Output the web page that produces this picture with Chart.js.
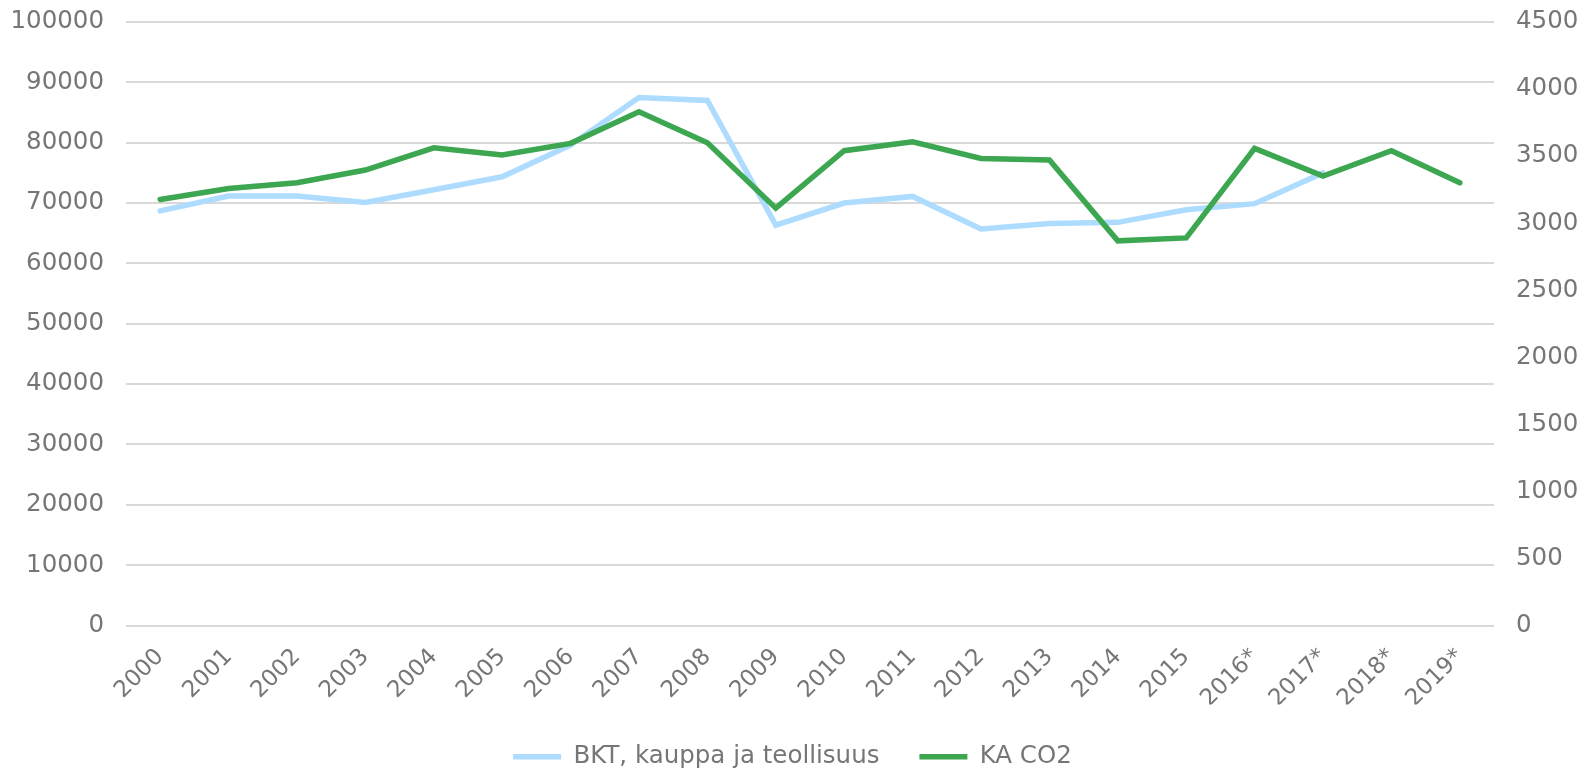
<!DOCTYPE html>
<html>
<head>
<meta charset="utf-8">
<script src="https://cdn.jsdelivr.net/npm/chart.js@4"></script>
<style>
  html, body { margin: 0; padding: 0; background: #fff; }
</style>
</head>
<body>
<canvas id="chart" width="1585" height="768"></canvas>
<script>
// values
const years = ['2000', '2001', '2002', '2003', '2004', '2005', '2006', '2007', '2008', '2009',
    '2010', '2011', '2012', '2013', '2014', '2015', '2016*', '2017*', '2018*', '2019*'];
const bkt = [68700, 71150, 71150, 70100, 72200, 74350, 79600, 87500, 87000, 66350,
    70000, 71100, 65700, 66600, 66800, 68900, 69900, 75000, null, null];
const co2 = [3177, 3259, 3301, 3396, 3562, 3508, 3595, 3831, 3600, 3112,
    3540, 3607, 3483, 3471, 2868, 2890, 3558, 3351, 3540, 3301];
const leftTicks = { min: 0, max: 100000, step: 10000 };
const rightTicks = { min: 0, max: 4500, step: 500 };

const grey = '#767676';
const font = { family: 'DejaVu Sans', size: 24.5 };
const plain = v => String(v);

new Chart(document.getElementById('chart'), {
    type: 'line',
    data: {
        labels: years,
        datasets: [{
            label: 'BKT, kauppa ja teollisuus',
            data: bkt,
            yAxisID: 'y',
            borderColor: '#addcff',
            backgroundColor: '#addcff',
            borderWidth: 5.5,
            borderCapStyle: 'round',
            pointRadius: 0,
            tension: 0,
            order: 1
        }, {
            label: 'KA CO2',
            data: co2,
            yAxisID: 'y1',
            borderColor: '#3ca651',
            backgroundColor: '#3ca651',
            borderWidth: 5.5,
            borderCapStyle: 'round',
            pointRadius: 0,
            tension: 0,
            order: 0
        }]
    },
    options: {
        responsive: false,
        animation: false,
        layout: { padding: { left: 0, right: 0, top: 22, bottom: -11 } },
        plugins: {
            tooltip: { enabled: false },
            legend: {
                position: 'bottom',
                labels: {
                    color: grey,
                    font: font,
                    usePointStyle: true,
                    pointStyle: 'line',
                    pointStyleWidth: 48,
                    padding: 40,
                    sort: (a, b) => a.datasetIndex - b.datasetIndex
                }
            }
        },
        scales: {
            x: {
                offset: true,
                grid: { display: false },
                border: { display: false },
                ticks: { color: grey, font: { family: 'DejaVu Sans', size: 23 }, maxRotation: 45, minRotation: 45, padding: 10 },
                afterFit: axis => { axis.height = 79; }
            },
            y: {
                position: 'left',
                min: leftTicks.min,
                max: leftTicks.max,
                grid: { color: '#d9d9d9', lineWidth: 2, drawTicks: false },
                border: { display: false },
                ticks: { stepSize: leftTicks.step, color: grey, font: font, padding: 22, callback: plain },
                afterFit: axis => { axis.width = 126; axis.paddingTop = 14; }
            },
            y1: {
                position: 'right',
                min: rightTicks.min,
                max: rightTicks.max,
                grid: { drawOnChartArea: false, drawTicks: false },
                border: { display: false },
                ticks: { stepSize: rightTicks.step, color: grey, font: font, padding: 22, callback: plain },
                afterFit: axis => { axis.width = 91; axis.paddingTop = 14; }
            }
        }
    }
});
</script>
</body>
</html>
